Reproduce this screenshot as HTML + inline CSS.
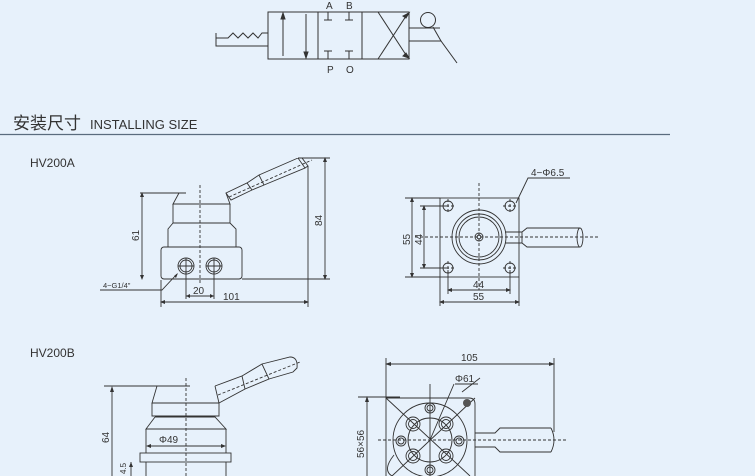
<!DOCTYPE html>
<html><head><meta charset="utf-8"><style>
html,body{margin:0;padding:0;background:#e7f1fb;}
svg{display:block;}
text{font-family:"Liberation Sans","Noto Sans CJK SC",sans-serif;fill:#333;}
</style></head><body>
<svg width="755" height="476" viewBox="0 0 755 476" xmlns="http://www.w3.org/2000/svg">
<rect width="755" height="476" fill="#e7f1fb"/>
<g stroke="#333" stroke-width="1" fill="none">
<rect x="268" y="12" width="141" height="47"/>
<line x1="318" y1="12" x2="318" y2="59"/><line x1="362" y1="12" x2="362" y2="59"/>
<line x1="283" y1="56" x2="283" y2="16"/><path d="M281 19 L283 13 L285 19Z" fill="#333"/>
<line x1="306" y1="14" x2="306" y2="54"/><path d="M304 52 L306 58 L308 52Z" fill="#333"/>
<path d="M328 12 V20 M324 20 H332 M349 12 V20 M345 20 H353 M328 59 V51 M324 51 H332 M349 59 V51 M345 51 H353"/>
<line x1="378" y1="12" x2="408" y2="58"/><line x1="378" y1="59" x2="408" y2="13"/>
<path d="M406 18 L409 13 L403 16Z M406 53 L409 58 L403 56Z" fill="#333"/>
<path d="M268 33 H262 L258 38 L253 33 L248 38 L243 33 L238 38 L233 33 L228 38 H216 V33 M216 38 V46 H268"/>
<path d="M409 28 H440 M409 41 H441 L457 63"/>
<circle cx="428" cy="20" r="7.5"/>
<line x1="433" y1="27" x2="441" y2="41"/>
</g>
<text x="326" y="9" font-size="10">A</text><text x="346" y="9" font-size="10">B</text>
<text x="327" y="73" font-size="10">P</text><text x="346" y="73" font-size="10">O</text>

<text x="13" y="129" font-size="17">安装尺寸</text><text x="90" y="129" font-size="13">INSTALLING SIZE</text>
<line x1="0" y1="134.5" x2="670" y2="134.5" stroke="#5a6c7e" stroke-width="1.2"/>
<text x="30" y="167" font-size="12" fill="#555">HV200A</text>
<text x="30" y="357" font-size="12" fill="#555">HV200B</text>

<g stroke="#333" stroke-width="0.9" fill="none">
<path d="M140 193 H186 M179 193 L173 204 H230 L226 193 M173 204 V223 H230 V204 M173 223 L168 229 V247 H236 V229 L230 223"/>
<rect x="161" y="247" width="81" height="32" rx="3"/>
<circle cx="186" cy="266" r="8"/><circle cx="186" cy="266" r="6"/>
<circle cx="214" cy="266" r="8"/><circle cx="214" cy="266" r="6"/>
<path d="M178 266 H194 M186 258 V274 M206 266 H222 M214 258 V274"/>
<line x1="200" y1="185" x2="200" y2="283" stroke-dasharray="3,2"/>
<path d="M226 193 L247 183 L252 190 L231 200 Z M247 183 L259 175 L264 185 L252 190 M259 175 L298 158 L305 168 L264 185 M298 158 L302 158 L308 166 L305 168"/>
<line x1="229" y1="197" x2="312" y2="160" stroke-dasharray="3,2"/>
<path d="M142 193 V279 M300 158 H330 M242 279 H330 M325 158 V279 M161 280 V307 M308 166 V307 M161 302 H308 M186 270 V299 M214 270 V299 M186 296 H214"/>
<path d="M177 274 L162 290 H100"/>
</g>
<g fill="#333">
<path d="M140 197 L142 192 L144 197Z M140 275 L142 280 L144 275Z M323 162 L325 157 L327 162Z M323 275 L325 280 L327 275Z M165 300 L160 302 L165 304Z M304 300 L309 302 L304 304Z M190 294 L186 296 L190 298Z M210 294 L214 296 L210 298Z M174 276 L178 273 L176 278Z"/>
</g>
<text font-size="10" transform="translate(139,241) rotate(-90)">61</text>
<text font-size="10" transform="translate(322,226) rotate(-90)">84</text>
<text x="223" y="300" font-size="10">101</text>
<text x="193" y="294" font-size="10">20</text>
<text x="103" y="288" font-size="7.5">4−G1/4"</text>

<g stroke="#333" stroke-width="0.9" fill="none">
<rect x="440" y="198" width="79" height="79"/>
<circle cx="479" cy="237" r="27"/><circle cx="479" cy="237" r="23"/><circle cx="479" cy="237" r="20"/>
<circle cx="479" cy="237" r="4"/><circle cx="479" cy="237" r="2"/>
<circle cx="448" cy="206" r="5"/><circle cx="510" cy="206" r="5"/><circle cx="448" cy="268" r="5"/><circle cx="510" cy="268" r="5"/>
<path d="M505 232 H522 L527 228 H580 M505 243 H522 L527 247 H580 M522 232 V243"/>
<ellipse cx="580" cy="237.5" rx="3" ry="9.5"/>
<g stroke-dasharray="3,2"><line x1="415" y1="237" x2="598" y2="237"/><line x1="479" y1="183" x2="479" y2="290"/>
<path d="M441 206 H455 M503 206 H517 M441 268 H455 M503 268 H517 M448 199 V213 M510 199 V213 M448 261 V275 M510 261 V275"/></g>
<path d="M405 198 H440 M405 277 H440 M420 206 H448 M420 268 H448 M412 198 V277 M424 206 V268 M448 270 V294 M510 270 V294 M440 277 V306 M519 277 V306 M448 290 H510 M440 302 H519 M516 203 L528 178 H570"/>
</g>
<g fill="#333"><path d="M410 202 L412 197 L414 202Z M410 273 L412 278 L414 273Z M422 210 L424 205 L426 210Z M422 264 L424 269 L426 264Z M452 288 L447 290 L452 292Z M506 288 L511 290 L506 292Z M444 300 L439 302 L444 304Z M515 300 L520 302 L515 304Z"/></g>
<text font-size="10" transform="translate(410,245) rotate(-90)">55</text>
<text font-size="10" transform="translate(422,245) rotate(-90)">44</text>
<text x="473" y="288" font-size="10">44</text>
<text x="473" y="300" font-size="10">55</text>
<text x="531" y="176" font-size="10">4−Φ6.5</text>

<g stroke="#333" stroke-width="0.9" fill="none">
<path d="M104 386 H190 M157 386 L152 403 H219 L215 386 M152 403 V416 H219 V403 M155 417 H215 L226 429 H146 L155 417 M146 429 V453 M226 429 V453"/>
<rect x="140" y="453" width="91" height="9"/>
<path d="M146 462 V476 M226 462 V476"/>
<line x1="186" y1="378" x2="186" y2="476" stroke-dasharray="3,2"/>
<path d="M215 386 L242 376 L245 389 L219 403 M242 376 L262 364 L269 379 L245 389 M262 364 L290 357 Q298 357 297 368 L293 372 L269 379"/>
<line x1="218" y1="395" x2="300" y2="362" stroke-dasharray="3,2"/>
<path d="M112 388 V476 M147 446 H225 M131 462 V476"/>
</g>
<g fill="#333"><path d="M110 392 L112 386 L114 392Z M151 444 L146 446 L151 448Z M221 444 L226 446 L221 448Z M129 467 L131 462 L133 467Z"/></g>
<text font-size="10" transform="translate(109,443) rotate(-90)">64</text>
<text x="159" y="443" font-size="10">Φ49</text>
<text font-size="8" transform="translate(126,474) rotate(-90)">4.5</text>

<g stroke="#333" stroke-width="0.9" fill="none">
<path d="M386 358 V476 M554 358 V432 M386 364 H554 M358 397 H400 M367 397 V476"/>
<path d="M386 398 H469 Q475 398 475 404 V476"/>
<circle cx="430" cy="440" r="37"/><circle cx="430" cy="440" r="22"/>
<g><circle cx="430" cy="408" r="5"/><circle cx="430" cy="408" r="3"/>
<circle cx="430" cy="470" r="5"/><circle cx="430" cy="470" r="3"/>
<circle cx="401" cy="441" r="5"/><circle cx="401" cy="441" r="3"/>
<circle cx="459" cy="441" r="5"/><circle cx="459" cy="441" r="3"/></g>
<circle cx="413" cy="424" r="7"/><circle cx="446" cy="424" r="7"/><circle cx="413" cy="456" r="7"/><circle cx="446" cy="456" r="7"/>
<circle cx="413" cy="424" r="4.5"/><circle cx="446" cy="424" r="4.5"/><circle cx="413" cy="456" r="4.5"/><circle cx="446" cy="456" r="4.5"/>
<path d="M386 398 L470 476 M475 398 L392 476 M430 384 V476 M430 440 L454 384 M455 384 H478 M462 392 L480 378"/>
<path d="M475 433 H495 L500 428 H551 M475 447 H495 L500 452 H551 M551 428 Q557 440 551 452"/>
<line x1="378" y1="440" x2="566" y2="440" stroke-dasharray="3,2"/>
<path d="M394 455 Q382 470 392 476"/>
</g>
<circle cx="467" cy="403" r="4" fill="#555"/>
<g fill="#333"><path d="M391 362 L385 364 L391 366Z M549 362 L555 364 L549 366Z M365 402 L367 396 L369 402Z"/></g>
<text x="461" y="361" font-size="10">105</text>
<text x="455" y="382" font-size="10">Φ61</text>
<text font-size="10" transform="translate(364,458) rotate(-90)">56×56</text>
</svg>
</body></html>
